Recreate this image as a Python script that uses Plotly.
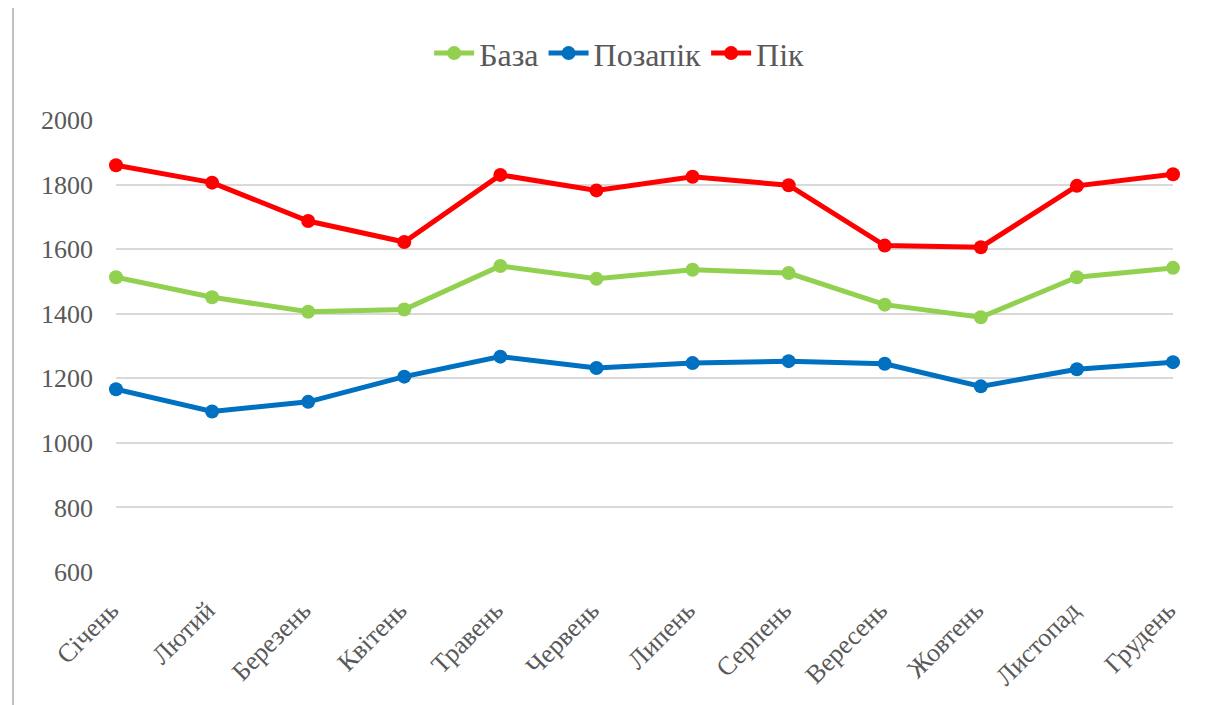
import plotly.graph_objects as go

months = ['Січень', 'Лютий', 'Березень', 'Квітень', 'Травень', 'Червень',
          'Липень', 'Серпень', 'Вересень', 'Жовтень', 'Листопад', 'Грудень']
baza = [1513, 1451, 1406, 1413, 1548, 1508, 1536, 1526, 1428, 1389, 1513, 1542]
pozapik = [1166, 1097, 1127, 1205, 1267, 1232, 1247, 1253, 1245, 1175, 1228, 1250]
pik = [1860, 1806, 1687, 1622, 1830, 1782, 1824, 1798, 1611, 1606, 1796, 1832]

font = '"Liberation Serif", Tinos, "Times New Roman", serif'
grey = '#595959'

fig = go.Figure()
for name, vals, col in [('База', baza, '#92D050'),
                        ('Позапік', pozapik, '#0070C0'),
                        ('Пік', pik, '#FF0000')]:
    fig.add_trace(go.Scatter(
        x=months, y=vals, name=name, mode='lines+markers',
        line=dict(color=col, width=5),
        marker=dict(color=col, size=14),
        cliponaxis=False,
    ))

# chart frame (left / right edges visible in the original)
for xp in [-0.0974, 1.0416]:
    fig.add_shape(type='line', xref='paper', yref='paper',
                  x0=xp, x1=xp, y0=-0.4, y1=1.4,
                  line=dict(color='#BFBFBF', width=2))

# page body has an 8px margin, so the figure is a bit smaller than the window
fig.update_layout(
    width=1215, height=697,
    margin=dict(l=108, r=50, t=112, b=133),
    paper_bgcolor='white', plot_bgcolor='white',
    font=dict(family=font, size=26, color=grey),
    showlegend=True,
    legend=dict(orientation='h', xref='container', yref='container',
                x=0.503, xanchor='center', y=0.935, yanchor='middle',
                font=dict(family=font, size=32, color=grey), itemwidth=40),
    xaxis=dict(type='category', range=[0, 11], showgrid=False,
               showline=False, zeroline=False, tickangle=-45,
               ticklabelstandoff=17, ticklabelshift=-5,
               tickfont=dict(family=font, size=26, color=grey)),
    yaxis=dict(range=[600, 2000], dtick=200, showgrid=True,
               gridcolor='#D9D9D9', gridwidth=2, zeroline=False,
               showline=False, ticklabelstandoff=22,
               tickfont=dict(family=font, size=26, color=grey)),
)

fig.write_html('out.html')
